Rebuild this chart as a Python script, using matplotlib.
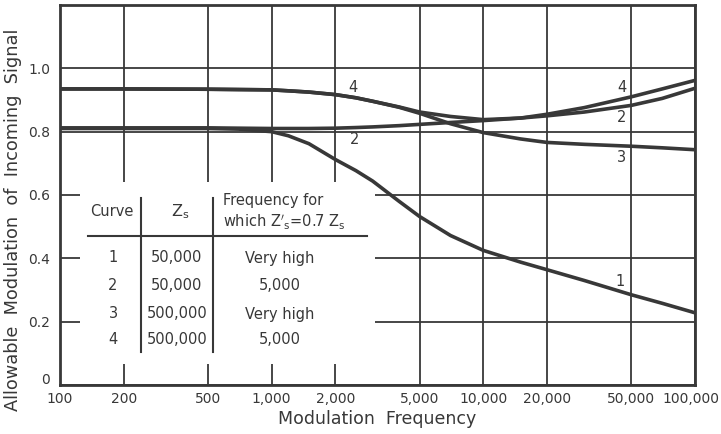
import matplotlib
matplotlib.use("Agg")
import matplotlib.pyplot as plt
from matplotlib.patches import Rectangle
from matplotlib.transforms import ScaledTranslation

# modulation frequency (c/s) and the four curves
freq = [100, 200, 500, 700, 1000, 1200, 1500, 2000, 2500, 3000, 4000, 5000,
        7000, 10000, 15000, 20000, 30000, 50000, 70000, 100000]
curve1 = [0.81, 0.81, 0.81, 0.808, 0.80, 0.787, 0.762, 0.712, 0.677, 0.644,
          0.58, 0.532, 0.472, 0.425, 0.388, 0.364, 0.33, 0.285, 0.258, 0.228]
curve2 = [0.812, 0.812, 0.812, 0.811, 0.81, 0.81, 0.81, 0.811, 0.813, 0.815,
          0.819, 0.823, 0.829, 0.835, 0.843, 0.85, 0.862, 0.883, 0.905, 0.937]
curve3 = [0.935, 0.935, 0.934, 0.933, 0.932, 0.929, 0.925, 0.917, 0.907, 0.896,
          0.877, 0.858, 0.825, 0.797, 0.777, 0.766, 0.76, 0.754, 0.749, 0.743]
curve4 = [0.935, 0.935, 0.934, 0.933, 0.932, 0.929, 0.925, 0.917, 0.907, 0.896,
          0.878, 0.862, 0.848, 0.838, 0.843, 0.855, 0.876, 0.91, 0.935, 0.962]

xticks = [100, 200, 500, 1000, 2000, 5000, 10000, 20000, 50000, 100000]
xlabels = ['100', '200', '500', '1,000', '2,000', '5,000', '10,000',
           '20,000', '50,000', '100,000']
yticks = [0, 0.2, 0.4, 0.6, 0.8, 1.0]
ylabels = ['0', '0.2', '0.4', '0.6', '0.8', '1.0']

# table inset
tbl_head = ['Curve', r'$\mathrm{Z_s}$']
tbl_curve = ['1', '2', '3', '4']
tbl_zs = ['50,000', '50,000', '500,000', '500,000']
tbl_freq = ['Very high', '5,000', 'Very high', '5,000']

ink = '#383838'
plt.rcParams['font.family'] = ['DejaVu Sans']
plt.rcParams['mathtext.fontset'] = 'dejavusans'

fig = plt.figure(figsize=(7.21, 4.34), dpi=100)
ax = fig.add_axes([60 / 721, 49 / 434, 635 / 721, 380 / 434])

ax.set_xscale('log')
ax.set_xlim(100, 100000)
ax.set_ylim(0, 1.2)
ax.set_xticks(xticks)
ax.set_xticklabels(xlabels)
ax.set_xticks([], minor=True)
ax.set_yticks(yticks)
ax.set_yticklabels(ylabels)
ax.tick_params(length=0, labelsize=10, colors=ink)
ax.tick_params(axis='x', pad=5)
ax.tick_params(axis='y', pad=7)
# last x label sits right at the figure edge
last = ax.get_xticklabels()[-1]
last.set_transform(last.get_transform() + ScaledTranslation(-4 / 100, 0, fig.dpi_scale_trans))
first_y = ax.get_yticklabels()[0]
first_y.set_transform(first_y.get_transform() + ScaledTranslation(0, 6 / 100, fig.dpi_scale_trans))

ax.set_axisbelow(True)
ax.grid(True, color=ink, lw=1.3)
for s in ax.spines.values():
    s.set_linewidth(2)
    s.set_color(ink)

# blank area behind the table (grid is cut there)
ax.add_patch(Rectangle((124, 0.066), 3077 - 124, 0.64 - 0.066,
                       facecolor='white', edgecolor='none', zorder=1))

for c in [curve1, curve2, curve3, curve4]:
    ax.plot(freq, c, color=ink, lw=2.6, zorder=3, solid_capstyle='butt')


def pos(px, py):
    return ((px - 60) / 635, (385 - py) / 380)


tr = ax.transAxes
fs = 10.5
for lab, px, py in [('4', 353, 88), ('2', 355, 140), ('4', 622, 87),
                    ('2', 622, 118), ('3', 622, 158), ('1', 620, 282)]:
    ax.text(*pos(px, py), lab, transform=tr, ha='center', va='center',
            fontsize=fs, color=ink, zorder=4)

ax.text(*pos(112, 212), tbl_head[0], transform=tr, ha='center', va='center',
        fontsize=fs, color=ink, zorder=4)
ax.text(*pos(180, 212), tbl_head[1], transform=tr, ha='center', va='center',
        fontsize=fs + 1, color=ink, zorder=4)
ax.text(*pos(223, 201), 'Frequency for', transform=tr, ha='left', va='center',
        fontsize=fs, color=ink, zorder=4)
ax.text(*pos(223, 222), r"which $\mathrm{Z'_s}$=0.7 $\mathrm{Z_s}$", transform=tr,
        ha='left', va='center', fontsize=fs, color=ink, zorder=4)

for i, py in enumerate([258, 286, 314, 340]):
    ax.text(*pos(113, py), tbl_curve[i], transform=tr, ha='center', va='center',
            fontsize=fs, color=ink, zorder=4)
    ax.text(*pos(177, py), tbl_zs[i], transform=tr, ha='center', va='center',
            fontsize=fs, color=ink, zorder=4)
    ax.text(*pos(280, py), tbl_freq[i], transform=tr, ha='center', va='center',
            fontsize=fs, color=ink, zorder=4)

x0, y0 = pos(88, 236)
x1, _ = pos(367, 236)
ax.plot([x0, x1], [y0, y0], transform=tr, color=ink, lw=1.5, zorder=4)
for px in [141, 213]:
    xa, ya = pos(px, 198)
    _, yb = pos(px, 352)
    ax.plot([xa, xa], [ya, yb], transform=tr, color=ink, lw=1.5, zorder=4)

ax.set_xlabel('Modulation  Frequency', fontsize=12.5, color=ink, labelpad=3)
ax.set_ylabel('Allowable  Modulation  of  Incoming  Signal', fontsize=12.8,
              color=ink)
ax.yaxis.set_label_coords(-0.06, 0.435)

fig.savefig('out.png', dpi=100, facecolor='white')
